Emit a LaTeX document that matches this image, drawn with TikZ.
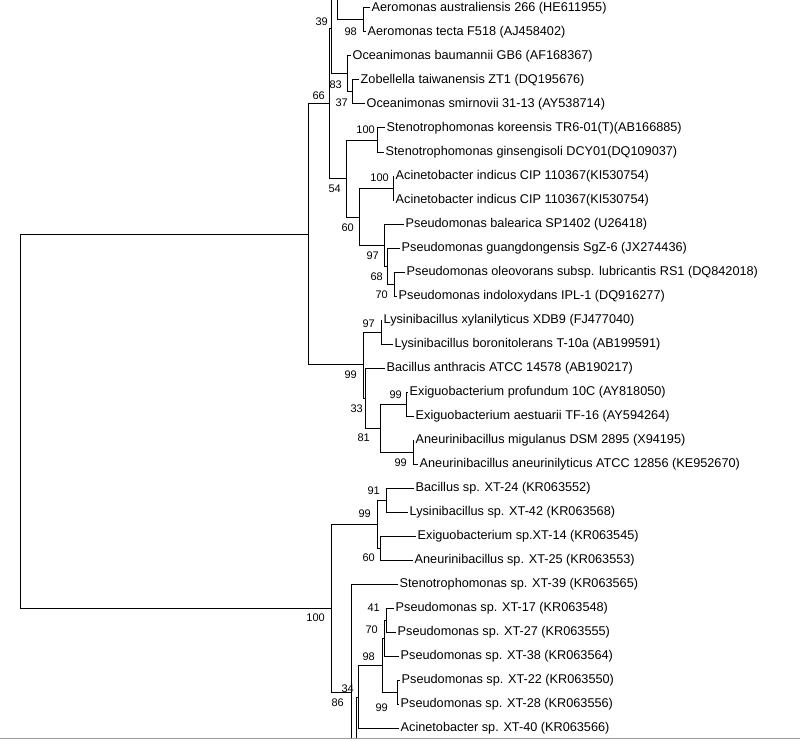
\documentclass[tikz,border=0pt]{standalone}
\usepackage{fontspec}
\setmainfont{Liberation Sans}
\begin{document}
\begin{tikzpicture}[x=1pt,y=-1pt,
  br/.style={draw=black,line width=1pt},
  tip/.style={anchor=west,inner xsep=1.5pt,inner ysep=0pt,font=\fontsize{12.7}{14}\selectfont},
  bs/.style={anchor=east,inner sep=0pt,font=\fontsize{11}{13}\selectfont}]
\useasboundingbox (0,0) rectangle (800,741);
\clip (0,0) rectangle (800,741);
% internal nodes
\coordinate (root) at (20,234);
\coordinate (nU) at (308,234);
\coordinate (nL) at (331,608);
\coordinate (n66) at (329,104);
\coordinate (n39) at (331,29);
\coordinate (nTop) at (337,-16);
\coordinate (offtop) at (337,-60);
\coordinate (nAer) at (363,20);
\coordinate (n83) at (347,74);
\coordinate (n37) at (352,92);
\coordinate (n54) at (346,178);
\coordinate (nSt) at (377,140);
\coordinate (n60) at (359,217);
\coordinate (nAc) at (393,188);
\coordinate (n97) at (384,245);
\coordinate (n68) at (387,266);
\coordinate (n70) at (394,284);
\coordinate (nB) at (363,364);
\coordinate (n97b) at (381,332);
\coordinate (n33) at (365,398);
\coordinate (n81) at (380,428);
\coordinate (nEx) at (406,404);
\coordinate (nAn) at (413,452);
\coordinate (n99b) at (377,524);
\coordinate (n91) at (386,500);
\coordinate (n60b) at (380,548);
\coordinate (n86) at (351,692);
\coordinate (offb1) at (351,760);
\coordinate (nX) at (356,760);
\coordinate (n34) at (358,697);
\coordinate (n98) at (382,665);
\coordinate (n70b) at (384,638);
\coordinate (n41) at (386,620);
\coordinate (n99c) at (397,692);
% tips
\node[tip] (aer1) at (370,8) {Aeromonas australiensis 266 (HE611955)};
\node[tip] (aer2) at (366,32) {Aeromonas tecta F518 (AJ458402)};
\node[tip] (oce1) at (351,56) {Oceanimonas baumannii GB6 (AF168367)};
\node[tip] (zob) at (359,80) {Zobellella taiwanensis ZT1 (DQ195676)};
\node[tip] (oce2) at (365,104) {Oceanimonas smirnovii 31-13 (AY538714)};
\node[tip] (st1) at (385,128) {Stenotrophomonas koreensis TR6-01(T)(AB166885)};
\node[tip] (st2) at (384,152) {Stenotrophomonas ginsengisoli DCY01(DQ109037)};
\node[tip] (ac1) at (394,176) {Acinetobacter indicus CIP 110367(KI530754)};
\node[tip] (ac2) at (394,200) {Acinetobacter indicus CIP 110367(KI530754)};
\node[tip] (ps1) at (404,224) {Pseudomonas balearica SP1402 (U26418)};
\node[tip] (ps2) at (400,248) {Pseudomonas guangdongensis SgZ-6 (JX274436)};
\node[tip] (ps3) at (405,272) {Pseudomonas oleovorans subsp. lubricantis RS1 (DQ842018)};
\node[tip] (ps4) at (397,296) {Pseudomonas indoloxydans IPL-1 (DQ916277)};
\node[tip] (ly1) at (382,320) {Lysinibacillus xylanilyticus XDB9 (FJ477040)};
\node[tip] (ly2) at (393,344) {Lysinibacillus boronitolerans T-10a (AB199591)};
\node[tip] (ba) at (385,368) {Bacillus anthracis ATCC 14578 (AB190217)};
\node[tip] (ex1) at (408,392) {Exiguobacterium profundum 10C (AY818050)};
\node[tip] (ex2) at (414,416) {Exiguobacterium aestuarii TF-16 (AY594264)};
\node[tip] (an1) at (414,440) {Aneurinibacillus migulanus DSM 2895 (X94195)};
\node[tip] (an2) at (418,464) {Aneurinibacillus aneurinilyticus ATCC 12856 (KE952670)};
\node[tip] (xt24) at (414,488) {Bacillus sp. XT-24 (KR063552)};
\node[tip] (xt42) at (408,512) {Lysinibacillus sp. XT-42 (KR063568)};
\node[tip] (xt14) at (416,536) {Exiguobacterium sp.XT-14 (KR063545)};
\node[tip] (xt25) at (413,560) {Aneurinibacillus sp. XT-25 (KR063553)};
\node[tip] (xt39) at (398,584) {Stenotrophomonas sp. XT-39 (KR063565)};
\node[tip] (xt17) at (394,608) {Pseudomonas sp. XT-17 (KR063548)};
\node[tip] (xt27) at (396,632) {Pseudomonas sp. XT-27 (KR063555)};
\node[tip] (xt38) at (399,656) {Pseudomonas sp. XT-38 (KR063564)};
\node[tip] (xt22) at (400,680) {Pseudomonas sp. XT-22 (KR063550)};
\node[tip] (xt28) at (399,704) {Pseudomonas sp. XT-28 (KR063556)};
\node[tip] (xt40) at (399,728) {Acinetobacter sp. XT-40 (KR063566)};
% branches
\draw[br] (root) |- (nU);
\draw[br] (root) |- (nL);
\draw[br] (nU) |- (n66);
\draw[br] (nU) |- (nB);
\draw[br] (n66) |- (n39);
\draw[br] (n66) |- (n54);
\draw[br] (n39) |- (nTop);
\draw[br] (n39) |- (n83);
\draw[br] (nTop) -- (offtop);
\draw[br] (nTop) |- (nAer);
\draw[br] (nAer) |- (aer1.west);
\draw[br] (nAer) |- (aer2.west);
\draw[br] (n83) |- (oce1.west);
\draw[br] (n83) |- (n37);
\draw[br] (n37) |- (zob.west);
\draw[br] (n37) |- (oce2.west);
\draw[br] (n54) |- (nSt);
\draw[br] (n54) |- (n60);
\draw[br] (nSt) |- (st1.west);
\draw[br] (nSt) |- (st2.west);
\draw[br] (n60) |- (nAc);
\draw[br] (n60) |- (n97);
\draw[br] (nAc) |- (ac1.west);
\draw[br] (nAc) |- (ac2.west);
\draw[br] (n97) |- (ps1.west);
\draw[br] (n97) |- (n68);
\draw[br] (n68) |- (ps2.west);
\draw[br] (n68) |- (n70);
\draw[br] (n70) |- (ps3.west);
\draw[br] (n70) |- (ps4.west);
\draw[br] (nB) |- (n97b);
\draw[br] (nB) |- (n33);
\draw[br] (n97b) |- (ly1.west);
\draw[br] (n97b) |- (ly2.west);
\draw[br] (n33) |- (ba.west);
\draw[br] (n33) |- (n81);
\draw[br] (n81) |- (nEx);
\draw[br] (n81) |- (nAn);
\draw[br] (nEx) |- (ex1.west);
\draw[br] (nEx) |- (ex2.west);
\draw[br] (nAn) |- (an1.west);
\draw[br] (nAn) |- (an2.west);
\draw[br] (nL) |- (n99b);
\draw[br] (nL) |- (n86);
\draw[br] (n99b) |- (n91);
\draw[br] (n99b) |- (n60b);
\draw[br] (n91) |- (xt24.west);
\draw[br] (n91) |- (xt42.west);
\draw[br] (n60b) |- (xt14.west);
\draw[br] (n60b) |- (xt25.west);
\draw[br] (n86) |- (xt39.west);
\draw[br] (n86) -- (offb1);
\draw[br] (nX) |- (n34);
\draw[br] (n34) |- (n98);
\draw[br] (n34) |- (xt40.west);
\draw[br] (n98) |- (n70b);
\draw[br] (n98) |- (n99c);
\draw[br] (n70b) |- (n41);
\draw[br] (n70b) |- (xt38.west);
\draw[br] (n41) |- (xt17.west);
\draw[br] (n41) |- (xt27.west);
\draw[br] (n99c) |- (xt22.west);
\draw[br] (n99c) |- (xt28.west);
% bootstrap values
\node[bs] (b39) at (328,22) {39};
\node[bs] (b98a) at (357,32) {98};
\node[bs] (b83) at (342,85) {83};
\node[bs] (b37) at (348,103) {37};
\node[bs] (b66) at (325,96) {66};
\node[bs] (b100a) at (375,130) {100};
\node[bs] (b54) at (341,189) {54};
\node[bs] (b100b) at (389,178) {100};
\node[bs] (b60a) at (354,228) {60};
\node[bs] (b97a) at (379,256) {97};
\node[bs] (b68) at (383,277) {68};
\node[bs] (b70a) at (388,295) {70};
\node[bs] (b97b) at (375,324) {97};
\node[bs] (b99a) at (357,375) {99};
\node[bs] (b33) at (363,409) {33};
\node[bs] (b99b) at (402,395) {99};
\node[bs] (b81) at (370,438) {81};
\node[bs] (b99c) at (407,463) {99};
\node[bs] (b91) at (380,491) {91};
\node[bs] (b99d) at (371,514) {99};
\node[bs] (b60b) at (375,558) {60};
\node[bs] (b100c) at (325,618) {100};
\node[bs] (b41) at (380,608) {41};
\node[bs] (b70b) at (378,630) {70};
\node[bs] (b98b) at (375,657) {98};
\node[bs] (b34) at (354,689) {34};
\node[bs] (b86) at (344,703) {86};
\node[bs] (b99e) at (388,708) {99};
% window edge
\coordinate (edgeL) at (0,738.5);
\coordinate (edgeR) at (800,738.5);
\fill[white] (0,739) rectangle (800,741);
\draw[black!40,line width=1.5pt] (edgeL) -- (edgeR);
\end{tikzpicture}
\end{document}
